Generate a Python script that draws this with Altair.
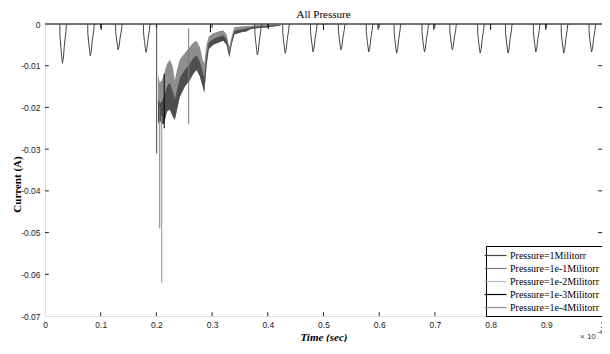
import altair as alt
import pandas as pd

# ---------------- data ----------------
series_names = ["Pressure=1Militorr", "Pressure=1e-1Militorr", "Pressure=1e-2Militorr",
                "Pressure=1e-3Militorr", "Pressure=1e-4Militorr"]
series_colors = ["#454545", "#7a7a7a", "#b8b8b8", "#000000", "#939393"]

x_ticks = [0, 0.1, 0.2, 0.3, 0.4, 0.5, 0.6, 0.7, 0.8, 0.9, 1]
y_ticks = [0, -0.01, -0.02, -0.03, -0.04, -0.05, -0.06, -0.07]

# periodic pulses (start time, depth)
pulse_starts = [0.025, 0.075, 0.125, 0.175, 0.375, 0.425, 0.475, 0.525, 0.575,
                0.625, 0.675, 0.725, 0.775, 0.825, 0.875, 0.925, 0.975]
pulse_depths = [-0.0094, -0.0076, -0.0062, -0.0068, -0.0074, -0.0070, -0.0067, -0.0062,
                -0.0067, -0.0070, -0.0067, -0.0062, -0.0070, -0.0070, -0.0067, -0.0070, -0.0067]
# shape of one pulse: time offset and fraction of depth
pulse_dt = [0, 0.0018, 0.0018, 0.0036, 0.0062, 0.0080, 0.0098, 0.0125, 0.0133, 0.0160]
pulse_frac = [0, 0.03, 0.28, 0.62, 1.0, 0.87, 0.54, 0.20, 0.03, 0]

# dense noisy band (all pressures overlapping)
band_t = [0.203, 0.206, 0.210, 0.2135, 0.219, 0.224, 0.229, 0.233, 0.237, 0.242, 0.251,
          0.260, 0.266, 0.272, 0.278, 0.283, 0.286, 0.290, 0.294, 0.302, 0.311, 0.320,
          0.326, 0.331, 0.335, 0.340, 0.352, 0.361, 0.370, 0.380, 0.400, 0.420, 0.430]
band_upper = [-0.0120, -0.0140, -0.0135, -0.0120, -0.0095, -0.0086, -0.0100, -0.0135, -0.0110,
              -0.0085, -0.0070, -0.0055, -0.0045, -0.0040, -0.0055, -0.0085, -0.0095, -0.0050,
              -0.0030, -0.0022, -0.0018, -0.0015, -0.0025, -0.0055, -0.0030, -0.0008, -0.0006,
              -0.0005, -0.0004, -0.0003, -0.0002, -0.0001, 0.0]
band_mid = [-0.0180, -0.0190, -0.0185, -0.0175, -0.0150, -0.0140, -0.0160, -0.0180, -0.0160,
            -0.0130, -0.0110, -0.0095, -0.0082, -0.0075, -0.0090, -0.0115, -0.0130, -0.0075,
            -0.0045, -0.0036, -0.0031, -0.0027, -0.0037, -0.0068, -0.0040, -0.0016, -0.0013,
            -0.0011, -0.0008, -0.0006, -0.0005, -0.0002, 0.0]
band_lower = [-0.0240, -0.0230, -0.0240, -0.0240, -0.0210, -0.0205, -0.0220, -0.0230, -0.0205,
              -0.0175, -0.0150, -0.0135, -0.0120, -0.0110, -0.0125, -0.0150, -0.0165, -0.0100,
              -0.0060, -0.0050, -0.0045, -0.0040, -0.0050, -0.0080, -0.0050, -0.0025, -0.0020,
              -0.0018, -0.0012, -0.0010, -0.0008, -0.0004, 0.0]

# tall single spikes inside the band
spike_t = [0.2005, 0.2060, 0.2095, 0.2140, 0.2580]
spike_top = [0.0, -0.0200, -0.0220, -0.0120, -0.0010]
spike_bot = [-0.0310, -0.0490, -0.0620, -0.0250, -0.0240]
spike_series = [0, 1, 4, 3, 1]

# small negative glitches
glitch_t = [0.101, 0.297, 0.401, 0.500, 0.598, 0.698, 0.800, 0.899]
glitch_depth = [-0.0014, -0.0020, -0.0012, -0.0014, -0.0014, -0.0014, -0.0014, -0.0014]

# ---------------- build tables ----------------
rows = []
seg = 0
for k, name in enumerate(series_names):
    rows.append(dict(seg=seg, i=0, t=0.0, v=0.0, series=name))
    rows.append(dict(seg=seg, i=1, t=1.0, v=0.0, series=name))
    seg += 1
for s0, d in zip(pulse_starts, pulse_depths):
    for j, (dt, fr) in enumerate(zip(pulse_dt, pulse_frac)):
        rows.append(dict(seg=seg, i=j, t=s0 + dt, v=d * fr, series=series_names[0]))
    seg += 1
for t, a, b, s in zip(spike_t, spike_top, spike_bot, spike_series):
    rows.append(dict(seg=seg, i=0, t=t, v=a, series=series_names[s]))
    rows.append(dict(seg=seg, i=1, t=t, v=b, series=series_names[s]))
    seg += 1
for t, d in zip(glitch_t, glitch_depth):
    rows.append(dict(seg=seg, i=0, t=t, v=0.0, series=series_names[3]))
    rows.append(dict(seg=seg, i=1, t=t, v=d, series=series_names[3]))
    seg += 1
lines_df = pd.DataFrame(rows)

band_df = pd.DataFrame(dict(t=band_t, v=band_upper, v2=band_lower, vm=band_mid))

TX = 0.007    # inward tick length (x units)
TY = 0.0009   # inward tick length (y units)
inner_x = x_ticks[1:-1]
inner_y = y_ticks[1:-1]
ticks_df = pd.DataFrame(
    [dict(t=x, t2=x, v=-0.07, v2=-0.07 + TY) for x in inner_x]
    + [dict(t=x, t2=x, v=0.0, v2=-TY) for x in inner_x]
    + [dict(t=0.0, t2=TX, v=y, v2=y) for y in inner_y]
    + [dict(t=1.0, t2=1.0 - TX, v=y, v2=y) for y in inner_y]
)

# ---------------- chart ----------------
SERIF = "Liberation Serif"
SANS = "Liberation Sans"

x_enc = alt.X("t:Q",
              scale=alt.Scale(domain=[0, 1], nice=False, zero=False),
              axis=alt.Axis(values=x_ticks, labelExpr="toString(datum.value)",
                            title="Time (sec)", titleFont=SERIF, titleFontSize=11,
                            titleFontWeight="bold", titleFontStyle="italic",
                            titleColor="black", titleY=21, titleBaseline="middle",
                            labelFont=SANS, labelFontSize=8.5, labelColor="#222",
                            labelPadding=4, ticks=False, domain=False, grid=False,
                            labelFlush=False))
y_enc = alt.Y("v:Q",
              scale=alt.Scale(domain=[-0.07, 0], nice=False, zero=False),
              axis=alt.Axis(values=y_ticks, labelExpr="toString(datum.value)",
                            title="Current (A)", titleFont=SERIF, titleFontSize=11,
                            titleFontWeight="bold", titleColor="black",
                            titleX=-23, titleY=160, titleAlign="center",
                            titleBaseline="bottom", titleAngle=270,
                            labelFont=SANS, labelFontSize=8.5, labelColor="#222",
                            labelPadding=5, ticks=False, domain=False, grid=False,
                            labelFlush=False))

band_light = alt.Chart(band_df).mark_area(color="#8e8e8e", opacity=1).encode(
    x=x_enc, y=y_enc, y2="v2:Q")
band_dark = alt.Chart(band_df).mark_area(color="#4e4e4e", opacity=1).encode(
    x=x_enc, y=alt.Y("vm:Q", scale=alt.Scale(domain=[-0.07, 0], nice=False, zero=False)),
    y2="v2:Q")

lines = alt.Chart(lines_df).mark_line(strokeWidth=1, interpolate="linear").encode(
    x=x_enc, y=y_enc,
    detail="seg:N",
    order="i:Q",
    color=alt.Color("series:N",
                    scale=alt.Scale(domain=series_names, range=series_colors),
                    legend=alt.Legend(title=None, orient="bottom-right", offset=0,
                                      padding=3, strokeColor="black", fillColor="white",
                                      symbolType="M-2,0L2,0", symbolSize=121,
                                      symbolStrokeWidth=1.2, labelFont=SERIF,
                                      labelFontSize=10, labelColor="black",
                                      rowPadding=1, labelOffset=8, labelLimit=0,
                                      cornerRadius=0)))

tick_rules = alt.Chart(ticks_df).mark_rule(color="#222", strokeWidth=1).encode(
    x=x_enc, x2="t2:Q", y=y_enc, y2="v2:Q")

exp_text = alt.Chart(pd.DataFrame({"a": [0]})).mark_text(
    text="\u00d7 10", font=SANS, fontSize=8, align="left", baseline="middle",
    color="#333").encode(x=alt.value(535), y=alt.value(313))
exp_sup = alt.Chart(pd.DataFrame({"a": [0]})).mark_text(
    text="-4", font=SANS, fontSize=6, align="left", baseline="middle",
    color="#333").encode(x=alt.value(552), y=alt.value(308))

chart = alt.layer(band_light, band_dark, lines, tick_rules, exp_text, exp_sup).properties(
    width=557, height=292,
    title=alt.TitleParams("All Pressure", font=SERIF, fontSize=11, fontWeight="normal",
                          color="black", offset=0, anchor="middle", frame="group"),
    autosize=alt.AutoSizeParams(type="none"),
    padding={"left": 37, "top": 16, "right": 0, "bottom": 26},
).configure_view(stroke="#222", strokeWidth=1.2).configure(background="white")

chart.save("out.html", embed_options={"renderer": "svg", "actions": False})
